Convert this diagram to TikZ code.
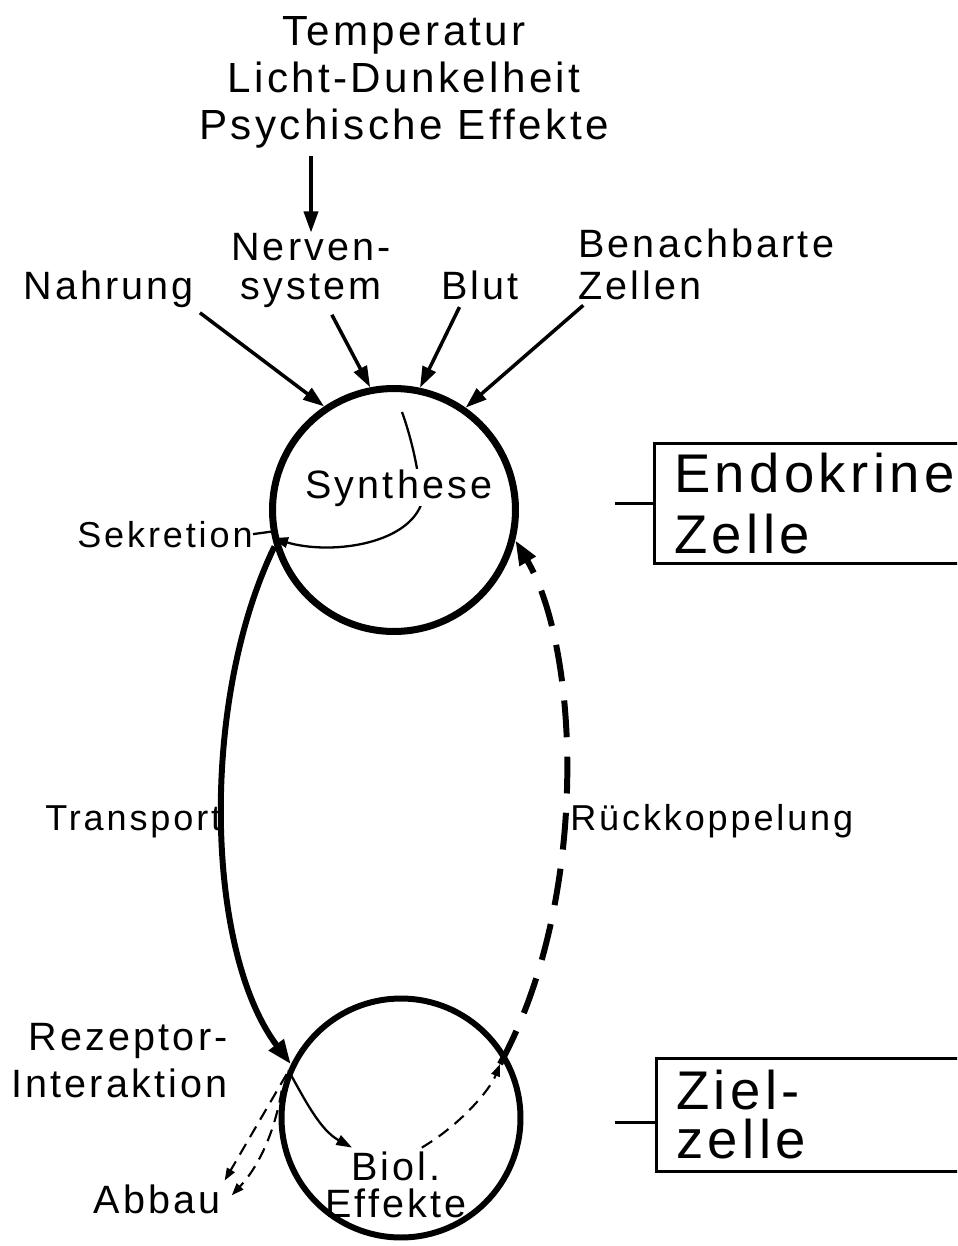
\documentclass[tikz,border=0pt]{standalone}
\usepackage{fontspec}
\setmainfont{Liberation Sans}[LetterSpace=8.0]
\usetikzlibrary{arrows.meta}

\begin{document}
\begin{tikzpicture}[
  x=0.02cm, y=-0.02cm,
  cell/.style={circle, draw, line width=4pt, minimum size=4.86cm, inner sep=0pt},
  lbl/.style={inner sep=0pt, font=\fontsize{22.5pt}{27pt}\selectfont},
  lblsmall/.style={inner sep=0pt, font=\fontsize{20.5pt}{24pt}\selectfont},
  tag/.style={rectangle, draw, line width=1.5pt, anchor=north west, text width=6cm, align=left, inner xsep=0.4cm, inner ysep=0pt, font=\fontsize{31pt}{34.6pt}\selectfont},
  inarr/.style={-{Triangle[length=12pt,width=8pt]}, line width=2pt, shorten <=4pt},
  flow/.style={-{Triangle[length=14pt,width=10pt]}, line width=3.4pt},
  fback/.style={flow, dash pattern=on 21pt off 11pt},
  thinarr/.style={-{Triangle[length=9pt,width=6pt]}, line width=1.3pt},
  thindash/.style={-{Triangle[length=7pt,width=5pt]}, line width=1.2pt, dash pattern=on 7pt off 4.5pt}
]
\useasboundingbox (0,0) rectangle (957,1246);
\clip (0,0) rectangle (957,1246);

% die beiden Zellen
\node[cell] (endo) at (394,510) {};
\node[cell, minimum size=4.78cm, line width=3.4pt] (ziel) at (401,1118) {};

% Einfluesse von aussen
\node[lbl, align=center, anchor=base, font=\fontsize{24pt}{27pt}\selectfont] (stim) at (404,140) {Temperatur\\Licht-Dunkelheit\\Psychische Effekte};
\node[lbl, align=center, anchor=base, font=\fontsize{22.5pt}{22.7pt}\selectfont] (nerv) at (311,300) {Nerven-\\system};
\node[lbl, anchor=base west] (nahrung) at (23,300) {Nahrung};
\node[lbl, anchor=base west] (blut) at (441,300) {Blut};
\node[lbl, align=left, anchor=base west, font=\fontsize{22.5pt}{24.4pt}\selectfont] (bena) at (578,300) {Benachbarte\\Zellen};

\draw[inarr] (stim.south -| nerv.north) -- (nerv.north);
\draw[inarr] (nahrung.south east) -- (endo.124);
\draw[inarr] ([xshift=10pt]nerv.south) -- (endo.101);
\draw[inarr] ([xshift=-10pt]blut.south) -- (endo.78);
\draw[inarr] ([xshift=6pt]bena.south west) -- (endo.55);

% Synthese und Sekretion
\coordinate (syntop) at (402,412);
\draw[thinarr] (syntop) .. controls (412,440) and (420,475) .. (421,505) .. controls (405,545) and (330,555) .. (endo.193);
\node[lbl, anchor=base west, fill=white] (synth) at (305,498) {Synthese};
\node[lblsmall, anchor=base west] (sekr) at (77,547) {Sekretion};
\draw[line width=1.3pt] (sekr.east) -- (endo.190);

% Transport und Rueckkoppelung
\coordinate (fb) at (500,1064);
\draw[flow] (endo.197) .. controls (200,700) and (205,950) .. (ziel.154);
\draw[fback] (fb) .. controls (590,900) and (580,650) .. (endo.346);
\node[lblsmall, anchor=base west] (transp) at (45,830) {Transport};
\node[lblsmall, anchor=base west] (rueck) at (570,830) {Rückkoppelung};

% Zielzelle
\node[lbl, align=right, anchor=base east, font=\fontsize{22.5pt}{26.6pt}\selectfont] (rez) at (228,1097) {Rezeptor-\\Interaktion};
\node[lbl, anchor=base west, inner sep=2pt] (abbau) at (90,1213) {Abbau};
\node[lbl, align=center, anchor=base, inner sep=2pt, font=\fontsize{22.5pt}{21pt}\selectfont] (biol) at (396,1217) {Biol.\\Effekte};

\draw[thinarr] (ziel.157) .. controls (305,1100) and (320,1130) .. (biol.140);
\draw[thindash] (biol.55) .. controls (460,1125) and (490,1090) .. (fb);
\draw[thindash] (ziel.159) -- (abbau.north east);
\draw[thindash] (ziel.167) .. controls (275,1130) and (260,1165) .. ([xshift=4pt,yshift=2pt]abbau.east);

% Kaesten rechts
\node[tag, minimum height=2.4cm] (endobox) at (653,442) {Endokrine\\Zelle};
\node[tag, minimum height=2.26cm, font=\fontsize{31pt}{28pt}\selectfont] (zielbox) at (655,1057) {Ziel-\\zelle};
\draw[line width=1.5pt] (endobox.west) -- ++(-38,0);
\draw[line width=1.5pt] ([yshift=-4.5pt]zielbox.west) -- ++(-40,0);
\end{tikzpicture}
\end{document}
